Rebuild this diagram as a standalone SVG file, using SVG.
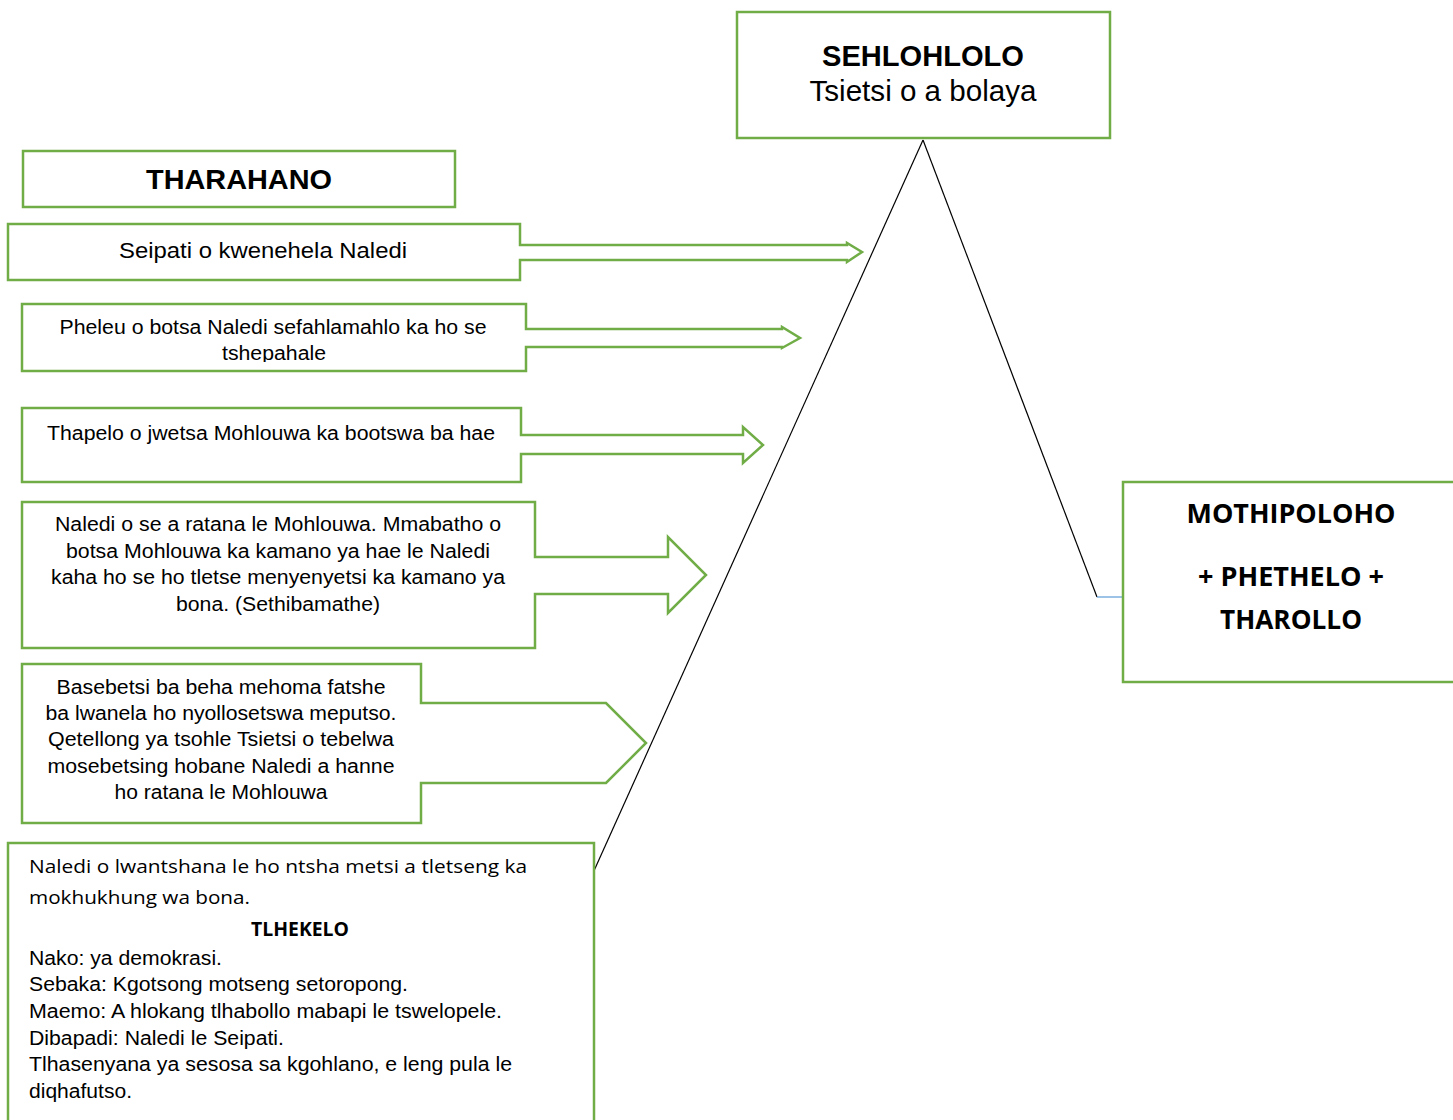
<svg xmlns="http://www.w3.org/2000/svg" width="1453" height="1120" viewBox="0 0 1453 1120">
<style>
.box{fill:#fff;stroke:#70AD47;stroke-width:2.5}
.t{font-family:"Liberation Sans",Arial,sans-serif;fill:#000}
.c{text-anchor:middle}
.b{font-weight:bold}
.cal{font-family:"Open Sans","Noto Sans",sans-serif;fill:#000}
.ln{stroke:#000;stroke-width:1.2;fill:none}
</style>
<defs>
<clipPath id="clip2"><rect x="22" y="304" width="504" height="58"/></clipPath>
</defs>
<rect width="1453" height="1120" fill="#fff"/>
<g id="connectors">
<line class="ln" x1="923" y1="140" x2="593" y2="873"/>
<line class="ln" x1="923" y1="140" x2="1097" y2="597"/>
<line x1="1097" y1="597" x2="1123" y2="597" stroke="#5B9BD5" stroke-width="1.2"/>
</g>
<g id="sehlohlolo">
<rect class="box" x="737" y="12" width="373" height="126"/>
<text class="t c b" x="923" y="66" font-size="29" textLength="202" lengthAdjust="spacingAndGlyphs">SEHLOHLOLO</text>
<text class="t c" x="923" y="101" font-size="29" textLength="227" lengthAdjust="spacingAndGlyphs">Tsietsi o a bolaya</text>
</g>
<g id="tharahano">
<rect class="box" x="23" y="151" width="432" height="56"/>
<text class="t c b" x="239" y="189" font-size="28" textLength="186" lengthAdjust="spacingAndGlyphs">THARAHANO</text>
</g>
<g id="event1">
<path class="box" d="M8,224 H520 V245 H847 V243 L862,252 L847,262 V260 H520 V280 H8 Z"/>
<text class="t c" x="263" y="258" font-size="22" textLength="288" lengthAdjust="spacingAndGlyphs">Seipati o kwenehela Naledi</text>
</g>
<g id="event2">
<path class="box" d="M22,304 H526 V329 H782 V327 L800,338 L782,348 V347 H526 V371 H22 Z"/>
<g clip-path="url(#clip2)">
<text class="t c" x="273" y="334" font-size="20" textLength="427" lengthAdjust="spacingAndGlyphs">Pheleu o botsa Naledi sefahlamahlo ka ho se</text>
<text class="t c" x="274" y="360" font-size="20" textLength="104" lengthAdjust="spacingAndGlyphs">tshepahale</text>
</g>
</g>
<g id="event3">
<path class="box" d="M22,408 H521 V435 H743 V427 L763,445 L743,463 V454 H521 V482 H22 Z"/>
<text class="t c" x="271" y="440" font-size="20" textLength="448" lengthAdjust="spacingAndGlyphs">Thapelo o jwetsa Mohlouwa ka bootswa ba hae</text>
</g>
<g id="event4">
<path class="box" d="M22,502 H535 V557 H668 V537 L706,575 L668,613 V594 H535 V648 H22 Z"/>
<text class="t c" x="278" y="531" font-size="20" textLength="446" lengthAdjust="spacingAndGlyphs">Naledi o se a ratana le Mohlouwa. Mmabatho o</text>
<text class="t c" x="278" y="558" font-size="20" textLength="424" lengthAdjust="spacingAndGlyphs">botsa Mohlouwa ka kamano ya hae le Naledi</text>
<text class="t c" x="278" y="584" font-size="20" textLength="454" lengthAdjust="spacingAndGlyphs">kaha ho se ho tletse menyenyetsi ka kamano ya</text>
<text class="t c" x="278" y="611" font-size="20" textLength="204" lengthAdjust="spacingAndGlyphs">bona. (Sethibamathe)</text>
</g>
<g id="event5">
<path class="box" d="M22,664 H421 V703 H606 L646,743 L606,783 H421 V823 H22 Z"/>
<text class="t c" x="221" y="694" font-size="20" textLength="329" lengthAdjust="spacingAndGlyphs">Basebetsi ba beha mehoma fatshe</text>
<text class="t c" x="221" y="720" font-size="20" textLength="351" lengthAdjust="spacingAndGlyphs">ba lwanela ho nyollosetswa meputso.</text>
<text class="t c" x="221" y="746" font-size="20" textLength="346" lengthAdjust="spacingAndGlyphs">Qetellong ya tsohle Tsietsi o tebelwa</text>
<text class="t c" x="221" y="773" font-size="20" textLength="347" lengthAdjust="spacingAndGlyphs">mosebetsing hobane Naledi a hanne</text>
<text class="t c" x="221" y="799" font-size="20" textLength="213" lengthAdjust="spacingAndGlyphs">ho ratana le Mohlouwa</text>
</g>
<g id="tlhekelo">
<rect class="box" x="8" y="843" width="586" height="300"/>
<text class="cal" x="29" y="873" font-size="19" textLength="498" lengthAdjust="spacingAndGlyphs">Naledi o lwantshana le ho ntsha metsi a tletseng ka</text>
<text class="cal" x="29" y="904" font-size="19" textLength="221" lengthAdjust="spacingAndGlyphs">mokhukhung wa bona.</text>
<text class="cal b" x="300" y="936" font-size="19" text-anchor="middle" textLength="98" lengthAdjust="spacingAndGlyphs">TLHEKELO</text>
<text class="t" x="29" y="965" font-size="20" textLength="193" lengthAdjust="spacingAndGlyphs">Nako: ya demokrasi.</text>
<text class="t" x="29" y="991" font-size="20" textLength="379" lengthAdjust="spacingAndGlyphs">Sebaka: Kgotsong motseng setoropong.</text>
<text class="t" x="29" y="1018" font-size="20" textLength="473" lengthAdjust="spacingAndGlyphs">Maemo: A hlokang tlhabollo mabapi le tswelopele.</text>
<text class="t" x="29" y="1045" font-size="20" textLength="255" lengthAdjust="spacingAndGlyphs">Dibapadi: Naledi le Seipati.</text>
<text class="t" x="29" y="1071" font-size="20" textLength="483" lengthAdjust="spacingAndGlyphs">Tlhasenyana ya sesosa sa kgohlano, e leng pula le</text>
<text class="t" x="29" y="1098" font-size="20" textLength="103" lengthAdjust="spacingAndGlyphs">diqhafutso.</text>
</g>
<g id="mothipoloho">
<rect class="box" x="1123" y="482" width="340" height="200"/>
<text class="cal c b" x="1291" y="523" font-size="27" textLength="209" lengthAdjust="spacingAndGlyphs">MOTHIPOLOHO</text>
<text class="cal c b" x="1291" y="586" font-size="27" textLength="186" lengthAdjust="spacingAndGlyphs">+ PHETHELO +</text>
<text class="cal c b" x="1291" y="629" font-size="27" textLength="142" lengthAdjust="spacingAndGlyphs">THAROLLO</text>
</g>
</svg>
